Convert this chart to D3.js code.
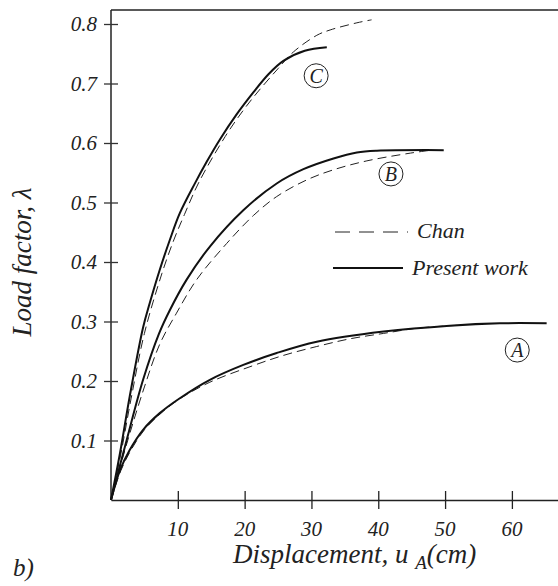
<!DOCTYPE html>
<html>
<head>
<meta charset="utf-8">
<script src="https://cdn.jsdelivr.net/npm/d3@7/dist/d3.min.js"></script>
</head>
<body style="margin:0">
<div id="wrapper"></div>
<script>
// curve C (present work / Chan)
const cSolid = [[0,0],[1.35,0.079],[2.8,0.174],[4.8,0.29],[5.8,0.331],[7.3,0.387],[8.8,0.437],[10.3,0.482],[12.6,0.533],[14.3,0.568],[16.3,0.606],[18.8,0.648],[21.3,0.685],[23.6,0.716],[25.8,0.738],[29,0.755],[32.3,0.761]];
const cDashed = [[0,0],[1.5,0.079],[3,0.17],[5,0.28],[7.6,0.38],[9.4,0.437],[11,0.48],[13.2,0.535],[17.1,0.611],[19.8,0.655],[22.2,0.689],[25,0.725],[27.3,0.753],[30.8,0.781],[32.8,0.79],[36.8,0.802],[39,0.807]];
// curve B
const bSolid = [[0,0],[2.35,0.101],[4.8,0.202],[7.2,0.28],[8.8,0.319],[11.3,0.37],[14.8,0.426],[19.8,0.487],[24.8,0.532],[28.8,0.556],[33.3,0.574],[36.8,0.584],[39.8,0.587],[49.8,0.588]];
const bDashed = [[0,0],[2.5,0.1],[5,0.19],[7.3,0.262],[9.8,0.314],[12.8,0.37],[17.3,0.431],[21.3,0.478],[24.8,0.51],[29.3,0.538],[33.3,0.555],[38.3,0.57],[44.8,0.583],[48,0.588]];
// curve A
const aSolid = [[0,0],[1.35,0.05],[2.8,0.084],[4.8,0.118],[7.3,0.146],[10.3,0.171],[14.8,0.202],[19.8,0.227],[24.8,0.247],[30.8,0.266],[40.8,0.283],[50.7,0.293],[58.2,0.297],[65.2,0.297]];
const aDashed = [[0,0],[1.5,0.05],[3,0.084],[5,0.118],[7.5,0.146],[10.3,0.17],[14.8,0.198],[20.8,0.224],[25.8,0.243],[30.8,0.258],[35.8,0.271],[40.8,0.28],[46,0.289],[52.7,0.294]];

const xTicks = [10, 20, 30, 40, 50, 60];
const yTicks = [0.1, 0.2, 0.3, 0.4, 0.5, 0.6, 0.7, 0.8];
const curveLabels = [
  {name: "C", x: 30.7, y: 0.713},
  {name: "B", x: 41.9, y: 0.548},
  {name: "A", x: 60.8, y: 0.252},
];

const width = 558, height = 586;
const margin = {top: 10, right: 0, bottom: 86, left: 111};

const svg = d3.select("#wrapper").append("svg")
  .attr("width", width)
  .attr("height", height);

const xScale = d3.scaleLinear().domain([0, 66.9]).range([margin.left, width - margin.right]);
const yScale = d3.scaleLinear().domain([0, 0.8]).range([500, 24]);

// italic serif text, font set in every way the renderer may honour
function label(sel, size) {
  return sel.append("text")
    .attr("font-family", "Times New Roman")
    .style("font-family", "'Times New Roman', 'Liberation Serif', serif")
    .attr("font-style", "italic")
    .style("font-style", "italic")
    .attr("font-size", size)
    .style("font-size", size + "px")
    .attr("fill", "#222");
}

// frame: top line
svg.append("line")
  .attr("x1", margin.left).attr("x2", width)
  .attr("y1", margin.top).attr("y2", margin.top)
  .attr("stroke", "#222").attr("stroke-width", 1.5);

const xAxis = svg.append("g")
  .attr("transform", `translate(0, ${yScale(0)})`)
  .call(d3.axisBottom(xScale).tickValues(xTicks).tickSizeOuter(0).tickFormat(""));
xAxis.attr("font-family", null).attr("font-size", null);
xAxis.select(".domain").attr("stroke", "#222").attr("stroke-width", 1.5);
xAxis.selectAll(".tick line").attr("y1", -9).attr("y2", 9).attr("stroke", "#222").attr("stroke-width", 1.3);
xAxis.selectAll(".tick text").remove();

const yAxis = svg.append("g")
  .attr("transform", `translate(${xScale(0)}, 0)`)
  .call(d3.axisLeft(yScale).tickValues(yTicks).tickSizeOuter(0).tickFormat(""));
yAxis.attr("font-family", null).attr("font-size", null);
yAxis.select(".domain").attr("d", `M0,${margin.top}V${yScale(0)}`).attr("stroke", "#222").attr("stroke-width", 1.5);
yAxis.selectAll(".tick line").attr("x1", -7).attr("x2", 7).attr("stroke", "#333").attr("stroke-width", 1.3);
yAxis.selectAll(".tick text").remove();

xTicks.forEach(t => {
  label(svg, 21).attr("x", xScale(t)).attr("y", 536).attr("text-anchor", "middle").text(t);
});
yTicks.forEach(t => {
  label(svg, 21).attr("x", 97).attr("y", yScale(t) + 7).attr("text-anchor", "end").text(d3.format(".1f")(t));
});

const line = d3.line()
  .x(d => xScale(d[0]))
  .y(d => yScale(d[1]))
  .curve(d3.curveCatmullRom.alpha(0.5));

[aDashed, bDashed, cDashed].forEach(s => {
  svg.append("path").attr("d", line(s))
    .attr("fill", "none").attr("stroke", "#222")
    .attr("stroke-width", 1).attr("stroke-dasharray", "9,5");
});
[aSolid, bSolid, cSolid].forEach(s => {
  svg.append("path").attr("d", line(s))
    .attr("fill", "none").attr("stroke", "#111")
    .attr("stroke-width", 2);
});

// circled curve labels
curveLabels.forEach(d => {
  const g = svg.append("g").attr("transform", `translate(${xScale(d.x)}, ${yScale(d.y)})`);
  g.append("circle").attr("r", 12).attr("fill", "none").attr("stroke", "#222").attr("stroke-width", 1);
  label(g, 20).attr("text-anchor", "middle").attr("y", 7).text(d.name);
});

// legend
svg.append("line").attr("x1", 335).attr("x2", 408).attr("y1", 232).attr("y2", 232)
  .attr("stroke", "#222").attr("stroke-width", 1).attr("stroke-dasharray", "15,9");
label(svg, 22).attr("x", 417).attr("y", 238).text("Chan");
svg.append("line").attr("x1", 333).attr("x2", 403).attr("y1", 268).attr("y2", 268)
  .attr("stroke", "#111").attr("stroke-width", 2);
label(svg, 22).attr("x", 412).attr("y", 275).text("Present work");

// axis titles
const xt = label(svg, 27).attr("x", 233).attr("y", 563);
xt.append("tspan").text("Displacement, u ");
xt.append("tspan").attr("dy", 6).style("font-size", "19px").text("A");
xt.append("tspan").attr("dy", -6).text("(cm)");

label(svg, 27)
  .attr("transform", "translate(31, 262) rotate(-90)")
  .attr("text-anchor", "middle")
  .text("Load factor, λ");

label(svg, 25).attr("x", 13).attr("y", 576).text("b)");
</script>
</body>
</html>
